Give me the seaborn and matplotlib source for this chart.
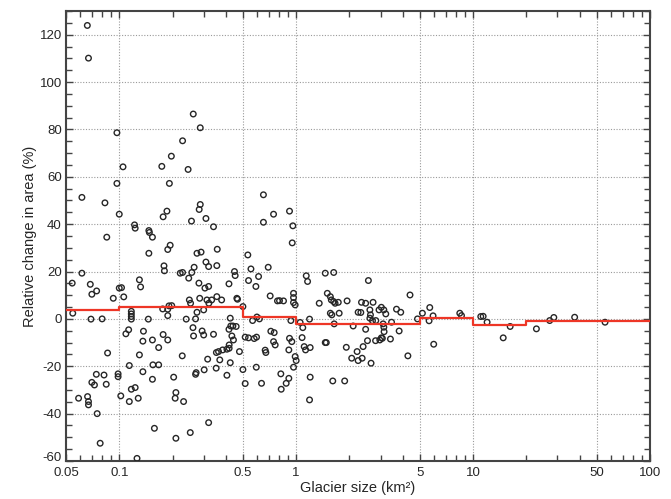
import matplotlib
matplotlib.use("Agg")
import matplotlib.pyplot as plt
import matplotlib.ticker as mticker
import matplotlib.transforms as mtransforms
import pandas as pd
import seaborn as sns

sns.set_style("ticks")
plt.rcParams['font.family'] = ['Liberation Sans', 'DejaVu Sans']
plt.rcParams['axes.unicode_minus'] = False

# glacier size (km2) and relative change in area (%)
glacier_size = [
    0.066, 0.067, 0.097, 0.262, 0.287, 0.228, 0.197, 0.105, 0.174, 0.245,
    0.097, 0.192, 0.0615, 0.083, 0.653, 0.287, 0.283, 0.186, 0.177, 0.100,
    0.256, 0.309, 0.341, 0.122, 0.123, 0.147, 0.148, 0.154, 0.085, 0.194,
    0.358, 0.745, 0.653, 0.917, 0.958, 0.95, 0.188,
    0.147, 0.275, 0.290, 0.533, 0.309, 0.320, 0.356, 0.179, 0.180, 0.555, 0.695,
    0.0542, 0.0546, 0.0615, 0.0589, 0.0662, 0.067, 0.067, 0.0686, 0.070, 0.0745,
    0.0692, 0.080, 0.070, 0.0724, 0.0742, 0.075, 0.082, 0.0844, 0.078, 0.0859,
    0.0925, 0.0985, 0.0985, 0.100, 0.103, 0.106, 0.102, 0.109, 0.113, 0.117,
    0.117, 0.117, 0.117, 0.114, 0.114, 0.117, 0.123, 0.126, 0.128, 0.130,
    0.132, 0.130, 0.137, 0.136, 0.136, 0.146, 0.154, 0.154, 0.155, 0.167,
    0.158, 0.167, 0.176, 0.177, 0.188, 0.191, 0.198, 0.188, 0.188, 0.203,
    0.209, 0.207, 0.209, 0.221, 0.228, 0.227, 0.231, 0.239, 0.247, 0.249,
    0.253, 0.252, 0.257, 0.265, 0.261, 0.263, 0.270, 0.272, 0.275, 0.270,
    0.282, 0.285, 0.294, 0.300, 0.300, 0.302, 0.305, 0.320, 0.313, 0.321,
    0.333, 0.316, 0.320, 0.341, 0.356, 0.379, 0.353, 0.354, 0.364, 0.384,
    0.406, 0.370, 0.406, 0.417, 0.417, 0.418, 0.418, 0.424, 0.424, 0.427,
    0.433, 0.442, 0.448, 0.452, 0.439, 0.458, 0.462, 0.466, 0.478, 0.50,
    0.50, 0.515, 0.538, 0.567, 0.515, 0.538, 0.579, 0.597, 0.592, 0.600,
    0.620, 0.613, 0.595, 0.637, 0.668, 0.674, 0.713, 0.719, 0.751, 0.745,
    0.761, 0.784, 0.805, 0.848, 0.819, 0.823, 0.878, 0.909, 0.909, 0.917,
    0.945, 0.933, 0.966, 0.966, 0.966, 0.987, 0.966, 0.987, 1.0, 1.053,
    1.09, 1.14, 1.16, 1.08, 1.11, 1.13, 1.19, 1.2, 1.2, 1.19,
    1.35, 1.46, 1.63, 1.50, 1.56, 1.58, 1.63, 1.66, 1.46, 1.48,
    1.56, 1.59, 1.64, 1.61,
    1.73, 1.75, 1.88, 1.92, 1.94, 2.06, 2.10, 2.21, 2.24, 2.36,
    2.24, 2.32, 2.34, 2.47, 2.39, 2.47, 2.56, 2.53, 2.61, 2.63,
    2.61, 2.65, 2.72, 2.70, 2.82, 2.81, 2.94, 3.03, 3.13, 3.21,
    2.97, 3.03, 3.07, 3.14, 3.13, 3.10, 3.41, 3.46, 3.69, 3.90,
    3.82, 4.28, 4.40, 4.85, 5.17, 5.69, 5.64, 5.94, 5.99, 8.41,
    8.60, 11.05, 11.4, 12.0, 14.8, 16.2, 22.8, 27.1, 28.6, 37.5,
    55.7,
]
area_change = [
    123.9, 110.1, 78.6, 86.5, 80.7, 75.2, 68.7, 64.2, 64.4, 63.1,
    57.2, 57.2, 51.3, 49.0, 52.4, 48.3, 46.2, 45.5, 43.1, 44.2,
    41.3, 42.4, 38.9, 39.7, 38.3, 37.3, 36.5, 34.5, 34.5, 31.1,
    29.4, 44.2, 40.8, 45.5, 39.3, 32.1, 29.3,
    27.7, 27.7, 28.2, 27.0, 24.0, 22.1, 22.5, 22.4, 20.3, 21.1, 21.8,
    15.1, 2.4, 19.3, -33.5, -32.8, -34.9, -36.3, 14.6, 10.4, 11.8,
    -0.1, 0.0, -26.8, -27.9, -23.4, -40.0, -23.7, -27.6, -52.5, -14.4,
    8.7, -23.2, -24.4, 13.0, 13.2, 9.3, -32.5, -6.3, -4.6, 3.2,
    2.1, 1.0, -0.1, -19.7, -34.9, -29.7, -29.0, -58.9, -33.5, 16.5,
    13.5, -15.2, -5.2, -9.4, -22.3, -0.1, -8.9, -25.5, -19.4, -19.4,
    -46.2, -12.1, 4.2, -6.6, 4.1, 5.5, 5.6, 1.4, -8.9, -24.6,
    -31.1, -33.5, -50.4, 19.3, 19.6, -15.6, -34.9, -0.1, 17.2, 8.0,
    6.6, -48.0, 19.6, 21.8, -3.7, -7.2, -23.4, -22.7, 2.8, 0.0,
    15.1, 8.7, -5.1, -6.8, 3.8, -21.5, 13.0, 13.7, 8.0, 6.6,
    8.0, -17.0, -43.8, -6.5, 9.4, 8.0, -20.8, -14.2, -13.8, -13.1,
    -12.8, -17.3, -23.8, 14.8, -4.4, -11.0, -12.4, -18.5, 0.3, -3.0,
    -7.2, -8.9, 20.0, 18.3, -3.0, -3.2, 8.7, 8.3, -13.8, 5.2,
    -21.4, -27.3, 16.2, -0.7, -7.7, -8.0, -8.3, -7.7, 13.7, 0.8,
    0.0, 17.9, -20.4, -27.2, -13.2, -14.2, 9.7, -5.2, -5.8, -9.6,
    -11.0, 7.6, 7.7, 7.6, -23.2, -29.7, -27.2, -25.1, -13.1, -8.2,
    -9.6, -0.7, 10.8, 9.0, 6.9, 5.9, -20.4, -15.9, -17.6, -1.5,
    -3.7, 18.2, 15.8, -7.9, -11.7, -13.1, -0.1, -12.1, -24.6, -34.2,
    6.6, 19.3, 19.6, 10.8, 9.4, 8.0, 7.3, 6.6, -10.0, -10.0,
    2.4, 1.7, -2.1, -26.2,
    7.0, 2.4, -26.2, -12.0, 7.6, -16.6, -3.0, -13.8, -17.6, -16.6,
    2.8, 2.7, 7.0, 6.6, -11.7, -4.4, 16.2, -9.2, 3.8, 1.7,
    0.3, -18.7, 7.0, -0.8, -0.7, -9.2, 3.8, 4.9, 3.8, 2.1,
    -8.9, -8.0, -8.2, -5.4, -3.5, -2.1, -8.5, -1.4, 4.1, 2.8,
    -5.1, -15.6, 10.1, 0.0, 2.4, 4.8, -0.8, 1.3, -10.7, 2.4,
    1.4, 1.0, 1.1, -1.4, -8.0, -3.2, -4.2, -0.7, 0.6, 0.7,
    -1.4,
]

# mean change per size class (red step line)
bin_edges = [0.05, 0.1, 0.5, 1, 5, 10, 20, 100]
bin_mean = [3.8, 5.2, 1.0, -2.0, 0.3, -2.7, -0.8]

x_ticks = [0.05, 0.1, 0.5, 1, 5, 10, 50, 100]
x_ticklabels = ["0.05", "0.1", "0.5", "1", "5", "10", "50", "100"]
y_ticks = [-60, -40, -20, 0, 20, 40, 60, 80, 100, 120]

df = pd.DataFrame({"size": glacier_size, "change": area_change})
steps = pd.DataFrame({"size": bin_edges, "change": bin_mean + bin_mean[-1:]})

fig = plt.figure(figsize=(6.71, 4.99), dpi=100)
ax = fig.add_axes([66 / 671, 38 / 499, 584 / 671, 450 / 499])

sns.scatterplot(data=df, x="size", y="change", ax=ax, marker="o", s=16,
                facecolor="none", edgecolor="#262626", linewidth=1.0, zorder=3)
sns.lineplot(data=steps, x="size", y="change", ax=ax, drawstyle="steps-post",
             color="#ee3626", linewidth=1.6, estimator=None, zorder=4)

ax.set_xscale("log")
ax.set_xlim(0.05, 100)
ax.set_ylim(-60, 130)
ax.set_xticks(x_ticks)
ax.set_xticklabels(x_ticklabels)
ax.xaxis.set_minor_locator(mticker.LogLocator(base=10, subs=range(2, 10)))
ax.xaxis.set_minor_formatter(mticker.NullFormatter())
ax.set_yticks(y_ticks)
ax.yaxis.set_minor_locator(mticker.MultipleLocator(5))

ax.grid(True, which="major", color="#9a9a9a", linestyle=(0, (1, 1.5)), linewidth=0.8)
ax.set_axisbelow(True)

ax.tick_params(which="both", direction="in", top=True, right=True,
               color="#444444", width=1, labelsize=9.5, pad=3)
ax.tick_params(axis="x", pad=4)
ax.tick_params(which="major", length=5)
ax.tick_params(which="minor", length=4)
for sp in ax.spines.values():
    sp.set_color("#444444")
    sp.set_linewidth(1.5)

# lift the bottom y label a little so it clears "0.05"
lift = mtransforms.ScaledTranslation(0, 3 / 72, fig.dpi_scale_trans)
ylab = ax.get_yticklabels()[0]
ylab.set_transform(ylab.get_transform() + lift)

ax.set_xlabel("Glacier size (km²)", fontsize=10.5, labelpad=2)
ax.set_ylabel("Relative change in area (%)", fontsize=10.5, labelpad=2)

fig.savefig("out.png", dpi=100)
